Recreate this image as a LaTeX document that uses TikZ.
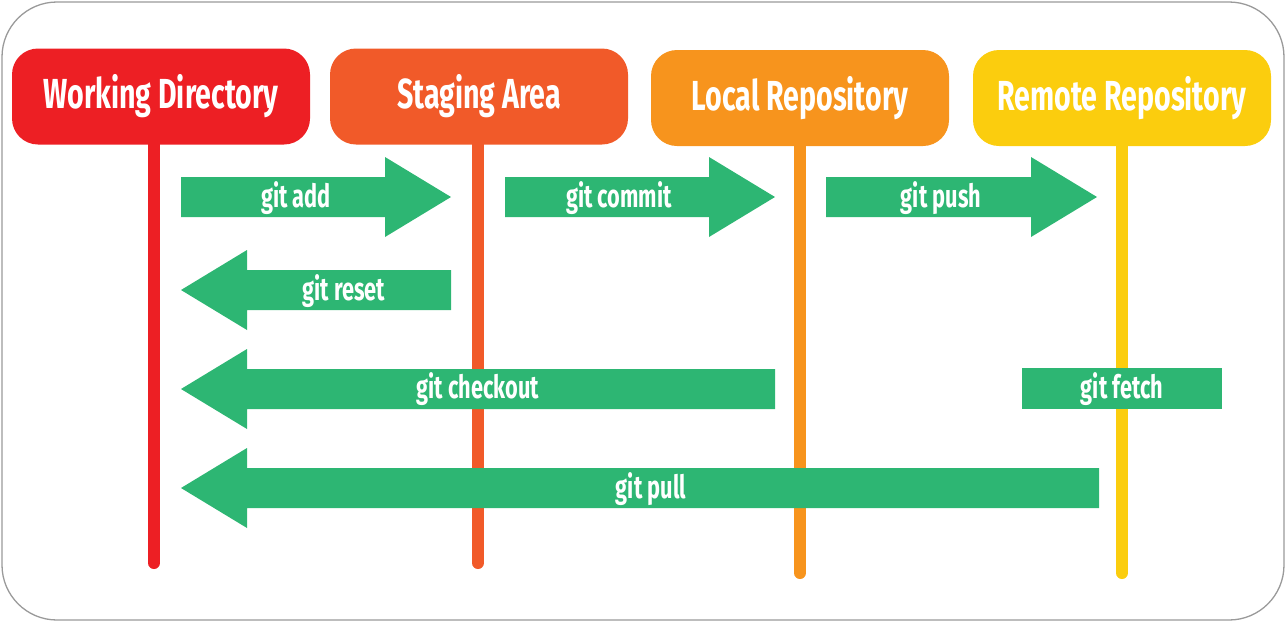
\documentclass[tikz,border=0pt]{standalone}
\usepackage{fontspec}
\newfontfamily\cond[FakeStretch=0.68]{Fira Sans}
\definecolor{cWD}{HTML}{ED1F24}
\definecolor{cSA}{HTML}{F15A29}
\definecolor{cLR}{HTML}{F7941D}
\definecolor{cRR}{HTML}{FBCD0E}
\definecolor{cG}{HTML}{2DB673}
\definecolor{cFrame}{HTML}{9A9A9A}
\tikzset{
  header/.style={rounded corners=26pt, minimum width=298pt, minimum height=96pt, inner sep=0pt,
    text=white, font=\cond\bfseries\fontsize{42}{42}\selectfont},
  lane/.style={line width=12pt, line cap=round},
  blockarrow/.style={fill=cG, draw=none},
  cmd/.style={text=white, font=\cond\bfseries\fontsize{32}{32}\selectfont, inner sep=0pt, anchor=center}
}
\newcommand\rightblock[4]{% x1, x2(tip), y, name
  \fill[blockarrow] (#1,#3-20) -- (#2-66,#3-20) -- (#2-66,#3-40) -- (#2,#3) -- (#2-66,#3+40) -- (#2-66,#3+20) -- (#1,#3+20) -- cycle;
  \coordinate (#4) at (#1,#3);}
\newcommand\leftblock[4]{% x1(tip), x2, y, name
  \fill[blockarrow] (#2,#3-20) -- (#1+66,#3-20) -- (#1+66,#3-40) -- (#1,#3) -- (#1+66,#3+40) -- (#1+66,#3+20) -- (#2,#3+20) -- cycle;
  \coordinate (#4) at (#1,#3);}
\begin{document}
\begin{tikzpicture}[x=1pt,y=-1pt]
\useasboundingbox (0,0) rectangle (1286,622);
\draw[cFrame, line width=1.3pt, rounded corners=55pt] (2,2) rectangle (1284,620);
% headers
\node[header, fill=cWD] (wd) at (161,96.5) {Working Directory};
\node[header, fill=cSA] (sa) at (479,96.5) {Staging Area};
\node[header, fill=cLR] (lr) at (800,98) {Local Repository};
\node[header, fill=cRR] (rr) at (1122,98) {Remote Repository};
% lanes
\coordinate (wdend) at (154,563);
\coordinate (saend) at (478,563);
\coordinate (lrend) at (800,573);
\coordinate (rrend) at (1122,573);
\draw[lane, cWD] (wd.south -| wdend) -- (wdend);
\draw[lane, cSA] (sa.south -| saend) -- (saend);
\draw[lane, cLR] (lr.south -| lrend) -- (lrend);
\draw[lane, cRR] (rr.south -| rrend) -- (rrend);
% arrows
\rightblock{181}{451}{197}{add}
\node[cmd] (addl) at (296,198) {git add};
\rightblock{505}{775}{197}{commit}
\node[cmd] (commitl) at (619,198) {git commit};
\rightblock{826}{1097}{197}{push}
\node[cmd] (pushl) at (941,198) {git push};
\leftblock{181}{451}{290}{reset}
\node[cmd] (resetl) at (344,291) {git reset};
\leftblock{181}{775}{389}{checkout}
\node[cmd] (checkoutl) at (478,389) {git checkout};
\fill[blockarrow] (1022,368) rectangle (1222,409);
\node[cmd] (fetchl) at (1122,389) {git fetch};
\leftblock{181}{1099}{488}{pull}
\node[cmd] (pulll) at (651,489) {git pull};
\end{tikzpicture}
\end{document}
